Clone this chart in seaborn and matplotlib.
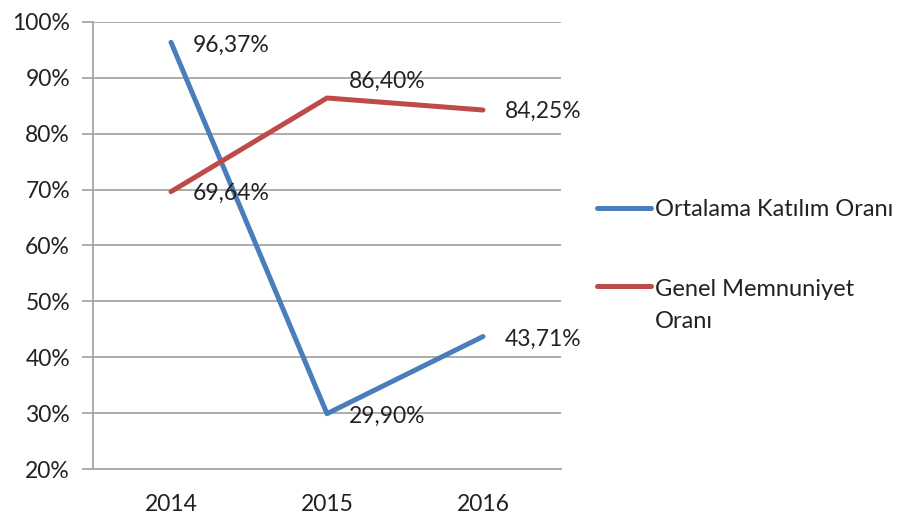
import matplotlib
matplotlib.use("Agg")
import matplotlib.pyplot as plt
from matplotlib.ticker import FixedLocator, PercentFormatter
from matplotlib.legend_handler import HandlerLine2D
from matplotlib.lines import Line2D
import numpy as np
import seaborn as sns
import pandas as pd

years = ["2014", "2015", "2016"]
katilim = [96.37, 29.90, 43.71]
memnuniyet = [69.64, 86.40, 84.25]
series_names = ["Ortalama Katılım Oranı", "Genel Memnuniyet\nOranı"]
y_ticks = [20, 30, 40, 50, 60, 70, 80, 90, 100]

colors = ["#4A7EBB", "#BE4B48"]
grid_color = "#A6A6A6"
text_color = "#222222"
fs = 16.5

sns.set_theme(style="white")
plt.rcParams["font.family"] = ["Lato", "DejaVu Sans"]

df = pd.DataFrame({
    "x": list(range(len(years))) * 2,
    "value": katilim + memnuniyet,
    "series": [series_names[0]] * len(years) + [series_names[1]] * len(years),
})

fig = plt.figure(figsize=(8.98, 5.18), dpi=100)
ax = fig.add_axes([93 / 898, 1 - 469 / 518, (561 - 93) / 898, (469 - 22) / 518])

sns.lineplot(data=df, x="x", y="value", hue="series", palette=colors,
             linewidth=3.6, ax=ax, legend=True, solid_capstyle="round")
handles, labels = ax.get_legend_handles_labels()
ax.get_legend().remove()

ax.set_xlim(-0.5, 2.5)
ax.set_ylim(20, 100)
ax.set_xlabel("")
ax.set_ylabel("")

ax.yaxis.set_major_locator(FixedLocator(y_ticks))
ax.yaxis.set_major_formatter(PercentFormatter(decimals=0))
ax.grid(axis="y", color=grid_color, linewidth=1.3)
ax.set_axisbelow(True)

ax.set_xticks(range(len(years)))
ax.set_xticklabels(years)
ax.set_xticks([-0.5, 0.5, 1.5, 2.5], minor=True)
ax.tick_params(axis="x", which="major", length=0, pad=18, labelsize=fs, labelcolor=text_color)
ax.tick_params(axis="x", which="minor", length=10, width=1.3, color=grid_color, direction="out")
ax.tick_params(axis="y", which="major", length=8, width=1.3, color=grid_color, direction="out",
               pad=8.5, labelsize=fs, labelcolor=text_color, left=True)

for side in ["top", "right"]:
    ax.spines[side].set_visible(False)
for side in ["left", "bottom"]:
    ax.spines[side].set_color(grid_color)
    ax.spines[side].set_linewidth(1.3)

def fmt(v):
    return f"{v:.2f}".replace(".", ",") + "%"

# value labels to the right of each point
for i, v in enumerate(katilim):
    ax.annotate(fmt(v), (i, v), xytext=(16, -2), textcoords="offset points",
                ha="left", va="center", fontsize=fs, color=text_color)
for i, v in enumerate(memnuniyet):
    dy = 12 if i == 1 else -1
    ax.annotate(fmt(v), (i, v), xytext=(16, dy), textcoords="offset points",
                ha="left", va="center", fontsize=fs, color=text_color)


class FirstLineHandler(HandlerLine2D):
    """Line handle raised to sit beside the first line of a wrapped label."""

    def __init__(self, dy=0.0, **kw):
        super().__init__(**kw)
        self.dy = dy

    def create_artists(self, legend, orig_handle, xdescent, ydescent, width,
                       height, fontsize, trans):
        artists = super().create_artists(legend, orig_handle, xdescent, ydescent,
                                         width, height, fontsize, trans)
        for a in artists:
            if isinstance(a, Line2D):
                a.set_ydata(np.asarray(a.get_ydata(), dtype=float) + self.dy)
        return artists


leg = fig.legend(handles, labels, loc="upper left",
                 bbox_to_anchor=(597 / 898, 1 - 199 / 518),
                 frameon=False, fontsize=17, handlelength=2.3, handletextpad=0.17,
                 labelspacing=2.5, borderpad=0, borderaxespad=0,
                 labelcolor=text_color,
                 handler_map={handles[1]: FirstLineHandler(dy=14.0)})
for t in leg.get_texts():
    t.set_linespacing(1.65)

fig.savefig("out.png", dpi=100)
